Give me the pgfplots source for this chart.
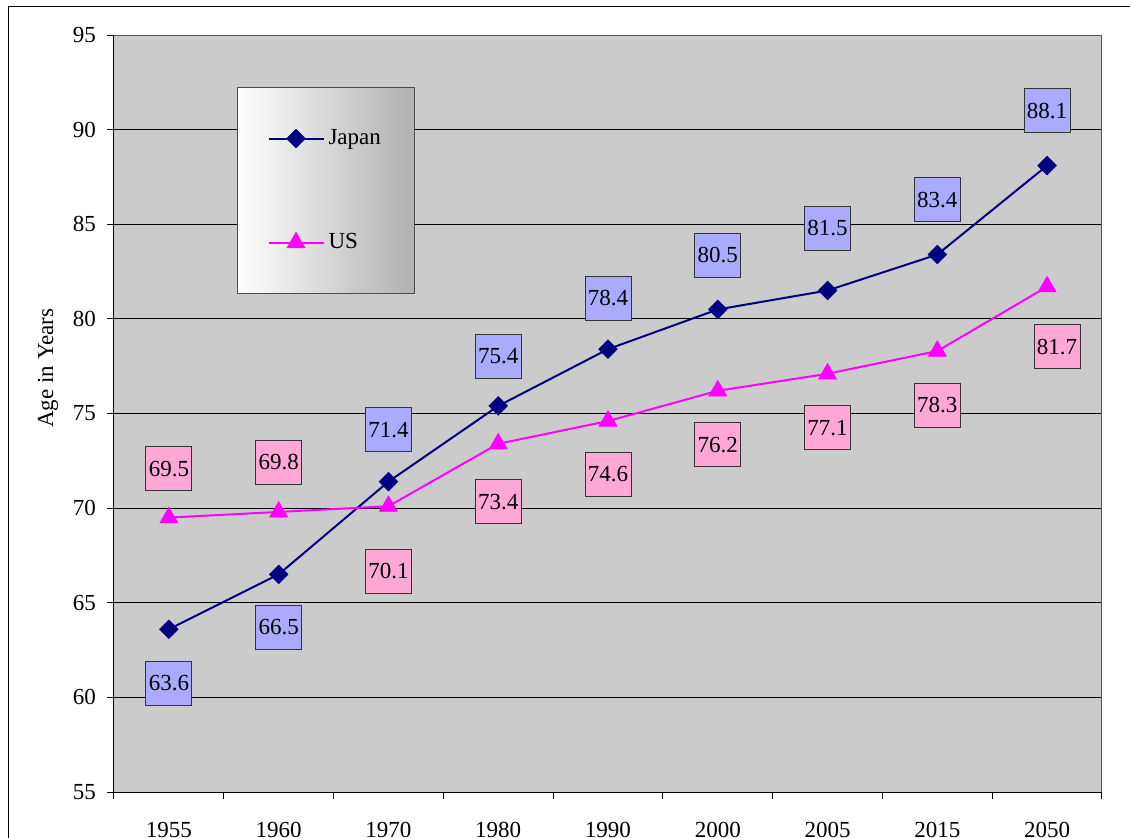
\documentclass[border=0pt]{standalone}
\usepackage{fontspec}
\setmainfont{Liberation Serif}
\usepackage{pgfplots}
\usepackage{pgfplotstable}
\pgfplotsset{compat=1.18}

\definecolor{plotbg}{RGB}{203,203,203}
\definecolor{jpn}{RGB}{0,0,128}
\definecolor{usc}{RGB}{255,0,255}
\definecolor{jpfill}{RGB}{170,170,255}
\definecolor{usfill}{RGB}{255,168,214}
\definecolor{leggray}{RGB}{176,176,176}

\pgfplotstableread{
x y dy dx
0 63.6 -27 0
1 66.5 -26.5 0
2 71.4 26 0
3 75.4 25 0
4 78.4 25.5 0
5 80.5 27 0
6 81.5 31 0
7 83.4 27.5 0
8 88.1 27.5 0
}\japan

\pgfplotstableread{
x y dy dx
0 69.5 24.5 0
1 69.8 25 0
2 70.1 -32.5 0
3 73.4 -29 0
4 74.6 -26.5 0
5 76.2 -27 0
6 77.1 -27 0
7 78.3 -27 0
8 81.7 -30 5
}\us

\begin{document}
\begin{tikzpicture}[font=\fontsize{11.5}{13.8}\selectfont]
\path[use as bounding box] (0,0) rectangle (565pt,-418.5pt);
\draw[line width=0.5pt] (4pt,-450pt) -- (4pt,-3pt) -- (600pt,-3pt);
\begin{axis}[
  at={(57pt,-396pt)}, anchor=south west,
  width=494pt, height=378.5pt, scale only axis,
  xmin=-0.5, xmax=8.5, ymin=55, ymax=95,
  xtick={-0.5,0.5,...,8.5},
  x tick label as interval,
  xticklabels={1955,1960,1970,1980,1990,2000,2005,2015,2050},
  xticklabel style={yshift=-8pt},
  yticklabel style={xshift=-2pt},
  ytick={55,60,...,95},
  tick align=outside, major tick length=3.5pt,
  xtick pos=bottom, ytick pos=left,
  tick style={black, line width=0.5pt},
  ymajorgrids, grid style={black, line width=0.5pt},
  axis background/.style={fill=plotbg},
  axis line style={draw=gray!70!black, line width=0.5pt},
  /pgf/number format/assume math mode=true,
  ylabel={Age in Years},
  ylabel style={at={(axis description cs:-0.0668,0.56)}, anchor=center},
  legend style={at={(axis description cs:0.1245,0.9313)}, anchor=north west,
    left color=white, right color=leggray, draw=gray!60!black, line width=0.5pt,
    inner xsep=15pt, inner ysep=19pt, row sep=39pt, cells={anchor=west},
    font=\fontsize{11.5}{13.8}\selectfont},
  legend image code/.code={\draw[mark repeat=2,mark phase=2,#1] plot coordinates {(0pt,0pt) (13.75pt,0pt) (27.5pt,0pt)};},
  after end axis/.code={\draw[black, line width=0.5pt] (rel axis cs:0,1) -- (rel axis cs:0,0) -- (rel axis cs:1,0);},
]
\addplot[color=jpn, line width=1pt, mark=square*, mark size=3.3pt,
  mark options={rotate=45, fill=jpn, draw=jpn, line width=0.3pt},
  point meta=explicit,
  visualization depends on={\thisrow{dy} \as \labdy},
  visualization depends on={\thisrow{dx} \as \labdx},
  nodes near coords={\pgfmathprintnumber[fixed,fixed zerofill,precision=1,assume math mode=true]{\pgfplotspointmeta}},
  nodes near coords align={center},
  every node near coord/.append style={anchor=center, xshift=\labdx pt, yshift=\labdy pt,
    fill=jpfill, draw=black!80, line width=0.4pt, text=black,
    minimum width=23pt, minimum height=22pt, inner sep=1pt, rotate=0},
] table[x=x, y=y, meta=y] {\japan};
\addlegendentry{Japan}
\addplot[color=usc, line width=1pt, mark=triangle*, mark size=5.2pt,
  mark options={fill=usc, draw=usc, line width=0.3pt},
  point meta=explicit,
  visualization depends on={\thisrow{dy} \as \labdy},
  visualization depends on={\thisrow{dx} \as \labdx},
  nodes near coords={\pgfmathprintnumber[fixed,fixed zerofill,precision=1,assume math mode=true]{\pgfplotspointmeta}},
  nodes near coords align={center},
  every node near coord/.append style={anchor=center, xshift=\labdx pt, yshift=\labdy pt,
    fill=usfill, draw=black!80, line width=0.4pt, text=black,
    minimum width=23pt, minimum height=22pt, inner sep=1pt},
] table[x=x, y=y, meta=y] {\us};
\addlegendentry{US}
\end{axis}
\end{tikzpicture}
\end{document}
